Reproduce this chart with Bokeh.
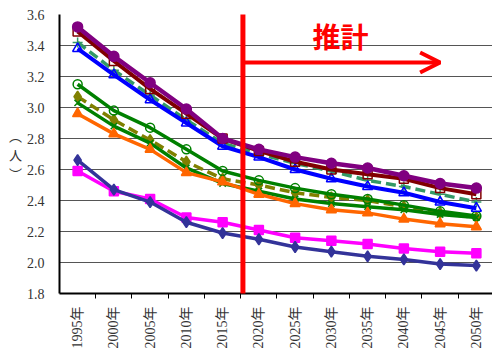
import numpy as np
from bokeh.plotting import figure
from bokeh.models import Range1d, FixedTicker, NumeralTickFormatter, Label, Arrow, OpenHead
from bokeh.embed import file_html
from bokeh.resources import INLINE

years = ["1995年", "2000年", "2005年", "2010年", "2015年", "2020年",
         "2025年", "2030年", "2035年", "2040年", "2045年", "2050年"]

s_purple = [3.52, 3.33, 3.16, 2.99, 2.80, 2.73, 2.68, 2.64, 2.61, 2.56, 2.51, 2.48]
s_darkred = [3.49, 3.30, 3.12, 2.96, 2.80, 2.72, 2.65, 2.60, 2.57, 2.54, 2.48, 2.44]
s_seagreen = [3.42, 3.24, 3.08, 2.92, 2.77, 2.70, 2.64, 2.59, 2.53, 2.49, 2.44, 2.39]
s_blue = [3.38, 3.21, 3.05, 2.90, 2.75, 2.68, 2.60, 2.54, 2.49, 2.45, 2.39, 2.35]
s_green_o = [3.15, 2.98, 2.87, 2.73, 2.59, 2.53, 2.48, 2.44, 2.41, 2.37, 2.33, 2.30]
s_olive = [3.07, 2.92, 2.79, 2.65, 2.54, 2.50, 2.45, 2.42, 2.40, 2.36, 2.32, 2.29]
s_green_x = [3.03, 2.88, 2.77, 2.61, 2.51, 2.46, 2.41, 2.38, 2.36, 2.34, 2.31, 2.29]
s_orange = [2.96, 2.83, 2.73, 2.58, 2.52, 2.44, 2.38, 2.34, 2.32, 2.28, 2.25, 2.23]
s_magenta = [2.59, 2.46, 2.41, 2.29, 2.26, 2.21, 2.16, 2.14, 2.12, 2.09, 2.07, 2.06]
s_navy = [2.66, 2.47, 2.39, 2.26, 2.19, 2.15, 2.10, 2.07, 2.04, 2.02, 1.99, 1.98]

y_ticks = [1.8, 2.0, 2.2, 2.4, 2.6, 2.8, 3.0, 3.2, 3.4, 3.6]

x = list(range(len(years)))

SERIF = "'Liberation Serif', 'Noto Sans CJK JP'"
CJK = "'Noto Sans CJK JP'"

p = figure(width=492, height=351, output_backend="svg", toolbar_location=None,
           x_range=Range1d(-0.5, 11.445), y_range=Range1d(1.8, 3.6),
           min_border_left=59, min_border_right=0, min_border_top=14, min_border_bottom=53)
p.outline_line_color = None
p.background_fill_color = "white"
p.xgrid.grid_line_color = None
p.ygrid.grid_line_color = "#555555"
p.ygrid.grid_line_width = 1

# y axis
p.yaxis.ticker = FixedTicker(ticks=y_ticks)
p.yaxis.formatter = NumeralTickFormatter(format="0.0")
p.yaxis.axis_line_color = "black"
p.yaxis.axis_line_width = 2
p.yaxis.major_tick_line_color = None
p.yaxis.minor_tick_line_color = None
p.yaxis.major_tick_out = 0
p.yaxis.major_label_standoff = 15
p.yaxis.major_label_text_font = SERIF
p.yaxis.major_label_text_font_size = "14px"
p.yaxis.major_label_text_color = "#333333"
p.yaxis.axis_label = "︵\n人\n︶"
p.yaxis.axis_label_orientation = "horizontal"
p.yaxis.axis_label_standoff = 2
p.yaxis.axis_label_text_font = CJK
p.yaxis.axis_label_text_font_style = "normal"
p.yaxis.axis_label_text_font_size = "13px"
p.yaxis.axis_label_text_color = "#333333"
p.yaxis.axis_label_text_line_height = 1.0

# x axis
p.xaxis.ticker = FixedTicker(ticks=x, minor_ticks=[i + 0.5 for i in x])
p.xaxis.major_label_overrides = {i: years[i] for i in x}
p.xaxis.major_label_orientation = np.pi / 2
p.xaxis.major_tick_line_color = None
p.xaxis.major_tick_out = 0
p.xaxis.minor_tick_line_color = "black"
p.xaxis.minor_tick_line_width = 1
p.xaxis.minor_tick_out = 5
p.xaxis.minor_tick_in = 0
p.xaxis.axis_line_color = "black"
p.xaxis.axis_line_width = 2
p.xaxis.major_label_standoff = 8
p.xaxis.major_label_text_font = SERIF
p.xaxis.major_label_text_font_size = "14px"
p.xaxis.major_label_text_color = "#333333"

series = [
    (s_seagreen, "#339966", 3.5, "dashed", "cross", False, 10),
    (s_olive, "#808000", 3.5, "dashed", "diamond", True, 11),
    (s_green_x, "#008000", 3.5, "solid", "x", False, 9),
    (s_green_o, "#008000", 3.5, "solid", "circle", False, 9),
    (s_orange, "#FF6600", 3.5, "solid", "triangle", True, 10),
    (s_magenta, "#FF00FF", 3.5, "solid", "square", True, 9),
    (s_navy, "#333399", 3.5, "solid", "diamond", True, 11),
    (s_blue, "#0000FF", 4, "solid", "triangle", False, 10),
    (s_darkred, "#800000", 4, "solid", "square", False, 9),
    (s_purple, "#800080", 4.5, "solid", "circle", True, 10),
]
for vals, col, lw, dash, mk, filled, sz in series:
    p.line(x, vals, line_color=col, line_width=lw,
           line_dash="10 5" if dash == "dashed" else "solid")
    p.scatter(x, vals, marker=mk, size=sz, line_color=col, line_width=1.5,
              fill_color=col if filled else None)

# projection boundary (red vertical line) and arrow
p.add_layout(Arrow(end=None, x_start=4.56, y_start=1.3, x_end=4.56, y_end=3.75,
                   line_color="#FF0000", line_width=5))
p.add_layout(Arrow(end=OpenHead(size=20, line_color="#FF0000", line_width=4),
                   x_start=4.56, y_start=3.29, x_end=10.0, y_end=3.29,
                   line_color="#FF0000", line_width=4))
p.add_layout(Label(x=7.25, y=3.46, text="推計", text_font=CJK, text_font_style="bold",
                   text_font_size="28px", text_color="#FF0000",
                   text_align="center", text_baseline="middle"))

open("out.html", "w").write(file_html(p, INLINE))
